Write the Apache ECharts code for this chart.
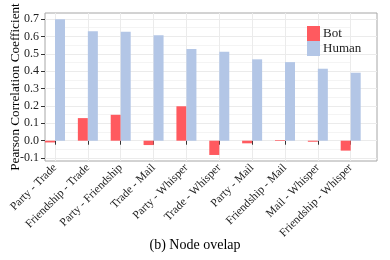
<!DOCTYPE html>
<html><head><meta charset="utf-8">
<script src="https://cdn.jsdelivr.net/npm/echarts@6/dist/echarts.min.js"></script>
<style>html,body{margin:0;padding:0;background:#fff}#c{width:390px;height:260px}</style>
</head><body><div id="c"></div>
<script>
const categories = ['Party - Trade','Friendship - Trade','Party - Friendship','Trade - Mail','Party - Whisper','Trade - Whisper','Party - Mail','Friendship - Mail','Mail - Whisper','Friendship - Whisper'];
const botValues = [-0.010, 0.130, 0.149, -0.025, 0.198, -0.082, -0.015, 0.004, -0.006, -0.057];
const humanValues = [0.699, 0.630, 0.626, 0.607, 0.527, 0.511, 0.468, 0.452, 0.414, 0.391];
const yTicks = [-0.1, 0.0, 0.1, 0.2, 0.3, 0.4, 0.5, 0.6, 0.7];
const yMinorTicks = [-0.05, 0.05, 0.15, 0.25, 0.35, 0.45, 0.55, 0.65];
const yMin = -0.1167, yMax = 0.7345;

const font = 'Liberation Serif';
const chart = echarts.init(document.getElementById('c'), null, {renderer:'canvas'});
chart.setOption({
  animation: false,
  backgroundColor: '#fff',
  grid: [
    {left:45, right:13, top:13, bottom:99, show:true, borderColor:'#a6a6a6', borderWidth:1, backgroundColor:'transparent', outerBoundsMode:'none', containLabel:false},
    {left:55, right:39.3, top:13, bottom:99, outerBoundsMode:'none', containLabel:false}
  ],
  xAxis: [
    {gridIndex:0, type:'value', show:false, min:0, max:1},
    {gridIndex:1, type:'category', data:categories, boundaryGap:false,
     axisLine:{show:false},
     axisTick:{show:true, length:4, lineStyle:{color:'#333'}},
     axisLabel:{rotate:45, fontFamily:font, fontSize:11.5, color:'#222', margin:5, interval:0},
     splitLine:{show:true, lineStyle:{color:'#ebebeb', width:1}}}
  ],
  yAxis: [
    {gridIndex:0, type:'value', min:yMin, max:yMax,
     axisLine:{show:false},
     axisTick:{show:true, length:4, lineStyle:{color:'#333'}, customValues: yTicks},
     axisLabel:{fontFamily:font, fontSize:12, color:'#222', margin:6, customValues: yTicks,
       formatter: v => v.toFixed(1)},
     splitLine:{show:true, lineStyle:{color:'#ebebeb', width:1}},
     name:'Pearson Correlation Coefficient', nameLocation:'middle', nameGap:23, nameMoveOverlap:false,
     nameTextStyle:{fontFamily:font, fontSize:13.2, color:'#000'}},
    {gridIndex:1, type:'value', min:yMin, max:yMax,
     axisLine:{show:false},
     axisTick:{show:false, customValues: yMinorTicks},
     axisLabel:{show:false, customValues: yMinorTicks},
     splitLine:{show:true, lineStyle:{color:'#f4f4f4', width:1}}}
  ],
  legend: {
    data:['Bot','Human'], orient:'vertical', left:302, top:21,
    itemWidth:13, itemHeight:15, itemGap:0, icon:'rect',
    textStyle:{fontFamily:font, fontSize:13, color:'#222', padding:[0,0,0,-2]}
  },
  title: {text:'(b) Node ovelap', left:'center', top:233,
    textStyle:{fontFamily:font, fontSize:14, fontWeight:'normal', color:'#000'}},
  series: [
    {name:'Bot', type:'bar', xAxisIndex:1, yAxisIndex:1, data:botValues, barWidth:10, barGap:'0%',
     itemStyle:{color:'#ff5a5f'}},
    {name:'Human', type:'bar', xAxisIndex:1, yAxisIndex:1, data:humanValues, barWidth:10, barGap:'0%',
     itemStyle:{color:'#b3c6e6'}}
  ]
});
</script></body></html>
